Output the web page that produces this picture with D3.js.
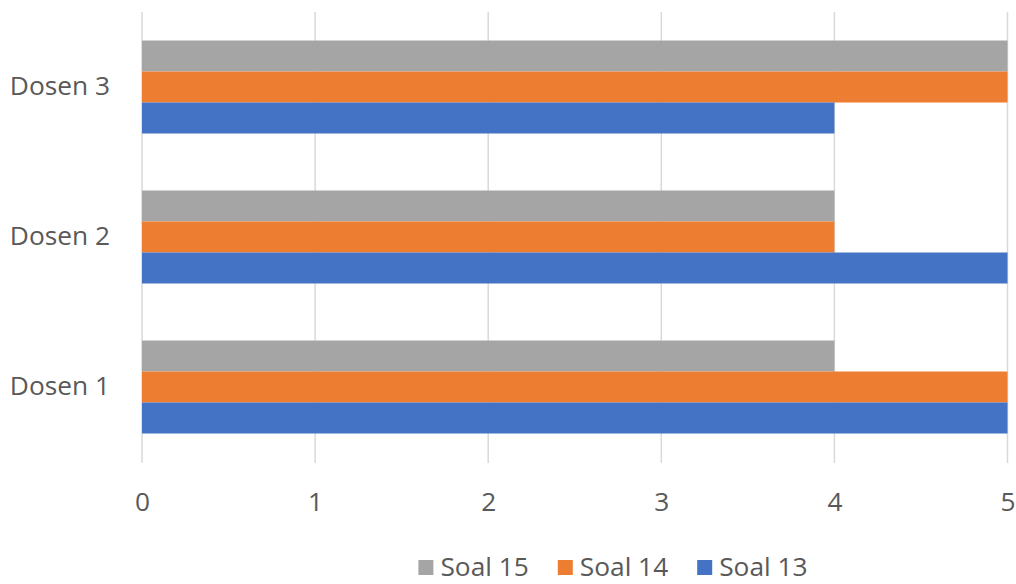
<!DOCTYPE html>
<html lang="en">
<head>
    <meta charset="UTF-8">
    <title>Dosen chart</title>
    <script src="https://d3js.org/d3.v7.min.js"></script>
    <style>
        body { margin: 0; background: #fff; }
        svg { display: block; }
        .lbl { font-family: 'Open Sans', sans-serif; font-size: 26.3px; fill: #595959; }
    </style>
</head>
<body>
    <svg id="chart" width="1016" height="584"></svg>
    <script>
        // data
        const categories = ['Dosen 3', 'Dosen 2', 'Dosen 1'];
        const series = ['Soal 15', 'Soal 14', 'Soal 13'];
        const soal15 = [5, 4, 4];
        const soal14 = [5, 4, 5];
        const soal13 = [4, 5, 5];
        const colors = ['#a5a5a5', '#ed7d31', '#4472c4'];
        const ticks = [0, 1, 2, 3, 4, 5];

        const values = [soal15, soal14, soal13];
        const svg = d3.select('#chart');

        const x = d3.scaleLinear().domain([0, 5]).range([142, 1007.5]);
        const y = d3.scaleBand().domain(categories).range([12, 462])
            .paddingInner(0.38).paddingOuter(0.19);
        const ys = d3.scaleBand().domain(series).range([0, y.bandwidth()]);

        // gridlines
        svg.append('g').selectAll('line')
            .data(ticks)
            .enter().append('line')
            .attr('x1', d => x(d)).attr('x2', d => x(d))
            .attr('y1', 12).attr('y2', 463)
            .attr('stroke', '#d9d9d9').attr('stroke-width', 1.5);

        // bars
        const rows = [];
        categories.forEach((c, i) => {
            series.forEach((s, j) => rows.push({ cat: c, ser: s, v: values[j][i], col: colors[j] }));
        });
        svg.append('g').selectAll('rect')
            .data(rows)
            .enter().append('rect')
            .attr('x', x(0))
            .attr('y', d => y(d.cat) + ys(d.ser))
            .attr('width', d => x(d.v) - x(0))
            .attr('height', ys.bandwidth())
            .attr('fill', d => d.col);

        // axes
        const xAxis = svg.append('g').attr('transform', 'translate(0,463)')
            .call(d3.axisBottom(x).tickValues(ticks).tickSize(0).tickPadding(29).tickFormat(d3.format('d')));
        xAxis.select('.domain').remove();
        xAxis.selectAll('text').attr('class', 'lbl').attr('font-size', null).attr('font-family', null)
            .attr('fill', null).attr('dy', '0.71em');

        const yAxis = svg.append('g').attr('transform', 'translate(110,0)')
            .call(d3.axisLeft(y).tickSize(0).tickPadding(0));
        yAxis.select('.domain').remove();
        yAxis.selectAll('text').attr('class', 'lbl').attr('font-size', null).attr('font-family', null)
            .attr('fill', null);

        // legend
        const legend = svg.append('g');
        const items = legend.selectAll('g').data(series).enter().append('g');
        items.append('rect').attr('width', 15).attr('height', 15).attr('y', -7)
            .attr('fill', (d, i) => colors[i]);
        items.append('text').attr('class', 'lbl').attr('x', 22).attr('dy', '0.35em').text(d => d);
        let pos = 0;
        items.each(function () {
            d3.select(this).attr('transform', `translate(${pos},567)`);
            pos += 22 + d3.select(this).select('text').node().getComputedTextLength() + 29;
        });
        const total = pos - 29;
        legend.attr('transform', `translate(${613 - total / 2},0)`);
    </script>
</body>
</html>
